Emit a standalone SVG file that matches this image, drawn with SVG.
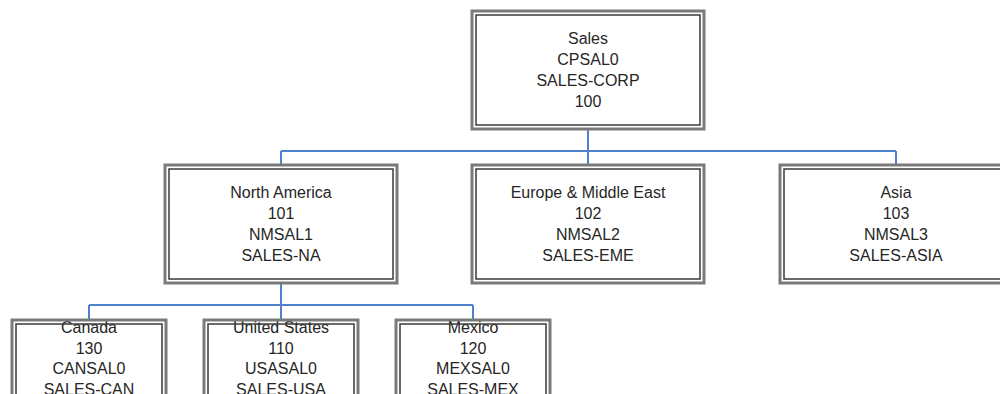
<svg xmlns="http://www.w3.org/2000/svg" width="1000" height="394" viewBox="0 0 1000 394">
<style>
.o{fill:none;stroke:#7a7a7a;stroke-width:3}
.i{fill:none;stroke:#3a3a3a;stroke-width:1.5}
.bg{fill:#ffffff}
.t{font-family:"Liberation Sans",Arial,sans-serif;font-size:16px;fill:#262626;text-anchor:middle}
.c{fill:none;stroke:#4f81cf;stroke-width:2}
</style>
<rect width="1000" height="394" fill="#ffffff"/>
<g id="connectors">
<path class="c" d="M588 129V151M281 151H896M281 151V165M588 151V165M896 151V165"/>
<path class="c" d="M281 283V305M89 305H473M89 305V319M281 305V319M473 305V319"/>
</g>
<g id="sales">
<rect class="bg" x="472" y="11" width="232" height="118"/>
<rect class="o" x="472" y="11" width="232" height="118"/>
<rect class="i" x="476" y="15" width="224" height="110"/>
<text class="t" x="588" y="44">Sales</text>
<text class="t" x="588" y="65">CPSAL0</text>
<text class="t" x="588" y="86">SALES-CORP</text>
<text class="t" x="588" y="107">100</text>
</g>
<g id="north-america">
<rect class="bg" x="165" y="165" width="232" height="118"/>
<rect class="o" x="165" y="165" width="232" height="118"/>
<rect class="i" x="169" y="169" width="224" height="110"/>
<text class="t" x="281" y="198">North America</text>
<text class="t" x="281" y="219">101</text>
<text class="t" x="281" y="240">NMSAL1</text>
<text class="t" x="281" y="261">SALES-NA</text>
</g>
<g id="europe">
<rect class="bg" x="472" y="165" width="232" height="118"/>
<rect class="o" x="472" y="165" width="232" height="118"/>
<rect class="i" x="476" y="169" width="224" height="110"/>
<text class="t" x="588" y="198">Europe &amp; Middle East</text>
<text class="t" x="588" y="219">102</text>
<text class="t" x="588" y="240">NMSAL2</text>
<text class="t" x="588" y="261">SALES-EME</text>
</g>
<g id="asia">
<rect class="bg" x="780" y="165" width="232" height="118"/>
<rect class="o" x="780" y="165" width="232" height="118"/>
<rect class="i" x="784" y="169" width="224" height="110"/>
<text class="t" x="896" y="198">Asia</text>
<text class="t" x="896" y="219">103</text>
<text class="t" x="896" y="240">NMSAL3</text>
<text class="t" x="896" y="261">SALES-ASIA</text>
</g>
<g id="canada">
<rect class="bg" x="12" y="320" width="154" height="118"/>
<text class="t" x="89" y="333">Canada</text>
<text class="t" x="89" y="354">130</text>
<text class="t" x="89" y="374">CANSAL0</text>
<text class="t" x="89" y="395">SALES-CAN</text>
<rect class="o" x="12" y="320" width="154" height="118"/>
<rect class="i" x="16" y="324" width="146" height="110"/>
</g>
<g id="united-states">
<rect class="bg" x="204" y="320" width="154" height="118"/>
<text class="t" x="281" y="333">United States</text>
<text class="t" x="281" y="354">110</text>
<text class="t" x="281" y="374">USASAL0</text>
<text class="t" x="281" y="395">SALES-USA</text>
<rect class="o" x="204" y="320" width="154" height="118"/>
<rect class="i" x="208" y="324" width="146" height="110"/>
</g>
<g id="mexico">
<rect class="bg" x="396" y="320" width="154" height="118"/>
<text class="t" x="473" y="333">Mexico</text>
<text class="t" x="473" y="354">120</text>
<text class="t" x="473" y="374">MEXSAL0</text>
<text class="t" x="473" y="395">SALES-MEX</text>
<rect class="o" x="396" y="320" width="154" height="118"/>
<rect class="i" x="400" y="324" width="146" height="110"/>
</g>
</svg>
